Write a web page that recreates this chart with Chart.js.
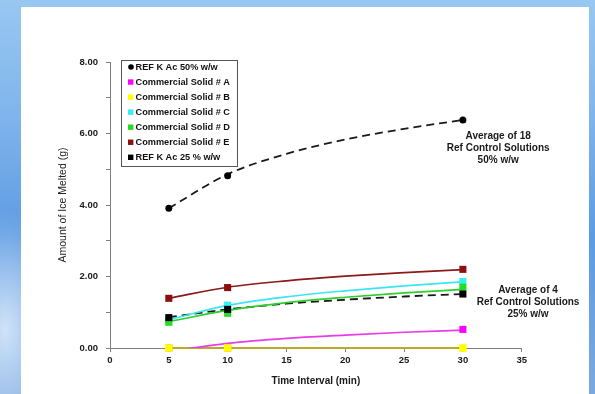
<!DOCTYPE html>
<html>
<head>
<meta charset="utf-8">
<script src="https://cdn.jsdelivr.net/npm/chart.js@4.4.0/dist/chart.umd.min.js"></script>
<style>
  html, body { margin: 0; padding: 0; width: 595px; height: 394px; overflow: hidden; }
  body {
    position: relative;
    background:
      radial-gradient(ellipse 60px 120px at 5px 330px, rgba(225, 238, 252, 0.85), rgba(225, 238, 252, 0) 100%),
      linear-gradient(to bottom, #98c7f1 0%, #7fb4ec 30%, #5d9be2 60%, #7aa9e0 100%);
  }
  #panel { position: absolute; left: 21px; top: 7px; width: 568px; height: 387px; background: #fff; }
  #chart { position: absolute; left: 0; top: 0; }
</style>
</head>
<body>
<div id="panel"></div>
<canvas id="chart" width="595" height="394"></canvas>
<script>
// measured points (min -> grams of ice melted)
const times = [5, 10, 30];
const ref50 = [3.91, 4.82, 6.38];
const solidA = [0, 0, 0.52];
const solidB = [0, 0, 0];
const solidC = [0.78, 1.20, 1.86];
const solidD = [0.72, 0.97, 1.70];
const solidE = [1.39, 1.69, 2.20];
const ref25 = [0.85, 1.08, 1.51];

// trend curves
const trendTimes = [5, 10, 15, 20, 25, 30];
const ref50Trend = [3.91, 4.86, 5.43, 5.83, 6.13, 6.38];
const solidATrend = [-0.10, 0.13, 0.27, 0.36, 0.44, 0.50];
const solidBTrend = [0, 0, 0, 0, 0, 0];
const solidCTrend = [0.79, 1.19, 1.43, 1.60, 1.74, 1.85];
const solidDTrend = [0.74, 1.05, 1.27, 1.42, 1.54, 1.64];
const solidETrend = [1.39, 1.70, 1.88, 2.01, 2.11, 2.19];
const ref25Trend = [0.86, 1.08, 1.24, 1.35, 1.44, 1.51];

const seriesNames = [
    'REF K Ac 50% w/w',
    'Commercial Solid # A',
    'Commercial Solid # B',
    'Commercial Solid # C',
    'Commercial Solid # D',
    'Commercial Solid # E',
    'REF K Ac 25 % w/w',
];

const noteHigh = ['Average of 18', 'Ref Control Solutions', '50% w/w'];
const noteLow = ['Average of 4', 'Ref Control Solutions', '25% w/w'];

const FONT = "'Liberation Sans', Arial, sans-serif";
const pts = (ys, xs = times) => xs.map((x, i) => ({ x, y: ys[i] }));

// lower order = drawn on top
const markerSet = (label, ys, color, style, radius, order) => ({
    label,
    data: pts(ys),
    showLine: false,
    pointStyle: style,
    pointRadius: radius,
    pointHoverRadius: radius,
    backgroundColor: color,
    borderColor: color,
    borderWidth: 0,
    clip: false,
    order,
    isMarker: true,
});

const trendSet = (ys, color, dashed, extra = {}) => ({
    label: '',
    data: pts(ys, trendTimes),
    showLine: true,
    pointRadius: 0,
    borderColor: color,
    borderWidth: dashed ? 1.8 : 1.7,
    borderDash: dashed ? [8, 5] : [],
    cubicInterpolationMode: 'monotone',
    fill: false,
    order: 10,
    ...extra,
});

const legendBox = {
    id: 'legendBox',
    afterDraw(chart) {
        const ctx = chart.ctx;
        const x0 = 121, y0 = 60, w = 116, h = 106;
        ctx.save();
        ctx.fillStyle = '#fff';
        ctx.fillRect(x0, y0, w, h);
        ctx.strokeStyle = '#555';
        ctx.lineWidth = 1;
        ctx.strokeRect(x0 + 0.5, y0 + 0.5, w, h);
        ctx.font = `bold 9.2px ${FONT}`;
        ctx.textBaseline = 'middle';
        chart.data.datasets.filter((d) => d.isMarker).forEach((d, i) => {
            const cy = y0 + 7 + i * 15.05;
            ctx.fillStyle = d.backgroundColor;
            if (d.pointStyle === 'circle') {
                ctx.beginPath();
                ctx.arc(131, cy, 2.8, 0, Math.PI * 2);
                ctx.fill();
            } else {
                ctx.fillRect(128, cy - 2.7, 5.4, 5.4);
            }
            ctx.fillStyle = '#111';
            ctx.fillText(d.label, 135.5, cy + 0.5);
        });
        ctx.restore();
    },
};

const notes = {
    id: 'notes',
    afterDraw(chart) {
        const { ctx, scales } = chart;
        const put = (lines, xv, yv) => {
            const cx = scales.x.getPixelForValue(xv);
            const cy = scales.y.getPixelForValue(yv);
            lines.forEach((t, i) => ctx.fillText(t, cx, cy + (i - 1) * 12));
        };
        ctx.save();
        ctx.font = `bold 10px ${FONT}`;
        ctx.fillStyle = '#1a1a1a';
        ctx.textAlign = 'center';
        ctx.textBaseline = 'middle';
        put(noteHigh, 33.0, 5.59);
        put(noteLow, 35.54, 1.27);
        ctx.restore();
    },
};

new Chart(document.getElementById('chart'), {
    type: 'scatter',
    data: {
        datasets: [
            markerSet(seriesNames[0], ref50, '#000', 'circle', 3.5, 1),
            markerSet(seriesNames[1], solidA, '#ff00ff', 'rect', 5, 2),
            markerSet(seriesNames[2], solidB, '#ffff00', 'rect', 5.4, 0),
            markerSet(seriesNames[3], solidC, '#33f0f5', 'rect', 5, 3),
            markerSet(seriesNames[4], solidD, '#22dd22', 'rect', 5, 2),
            markerSet(seriesNames[5], solidE, '#8b0f0f', 'rect', 5, 1),
            markerSet(seriesNames[6], ref25, '#000', 'rect', 5, 1),
            trendSet(ref50Trend, '#1a1a1a', true),
            trendSet(solidATrend, '#e83ce8', false),
            trendSet(solidBTrend, '#b9aa2a', false, { borderWidth: 2, clip: false }),
            trendSet(solidCTrend, '#3ae6f0', false),
            trendSet(solidDTrend, '#2ccf2c', false),
            trendSet(solidETrend, '#8b1a1a', false),
            trendSet(ref25Trend, '#1a1a1a', true),
        ],
    },
    options: {
        responsive: false,
        animation: false,
        devicePixelRatio: 1,
        layout: { padding: { top: 62, right: 73.3, left: 0, bottom: 0 } },
        plugins: {
            legend: { display: false },
            tooltip: { enabled: false },
        },
        scales: {
            x: {
                type: 'linear',
                min: 0,
                max: 35,
                afterFit: (s) => { s.height = 46; },
                border: { color: '#808080', width: 1 },
                grid: { drawOnChartArea: false, color: '#808080', tickLength: 4 },
                ticks: {
                    stepSize: 5,
                    padding: 3,
                    color: '#1a1a1a',
                    font: { family: FONT, size: 9.5, weight: 'bold' },
                },
                title: {
                    display: true,
                    text: 'Time Interval (min)',
                    color: '#1a1a1a',
                    font: { family: FONT, size: 10, weight: 'bold' },
                    padding: { top: 7, bottom: 7 },
                },
            },
            y: {
                min: 0,
                max: 8,
                afterFit: (s) => { s.width = 110; },
                border: { color: '#808080', width: 1 },
                grid: { drawOnChartArea: false, color: '#808080', tickLength: 4 },
                ticks: {
                    stepSize: 1,
                    padding: 8,
                    color: '#1a1a1a',
                    font: { family: FONT, size: 9.5, weight: 'bold' },
                    callback: (v) => (v % 2 === 0 ? v.toFixed(2) : ''),
                },
                title: {
                    display: true,
                    text: 'Amount of Ice Melted (g)',
                    color: '#222',
                    font: { family: FONT, size: 10.5 },
                    padding: { top: 56.7, bottom: 56.7 },
                },
            },
        },
    },
    plugins: [legendBox, notes],
});
</script>
</body>
</html>
